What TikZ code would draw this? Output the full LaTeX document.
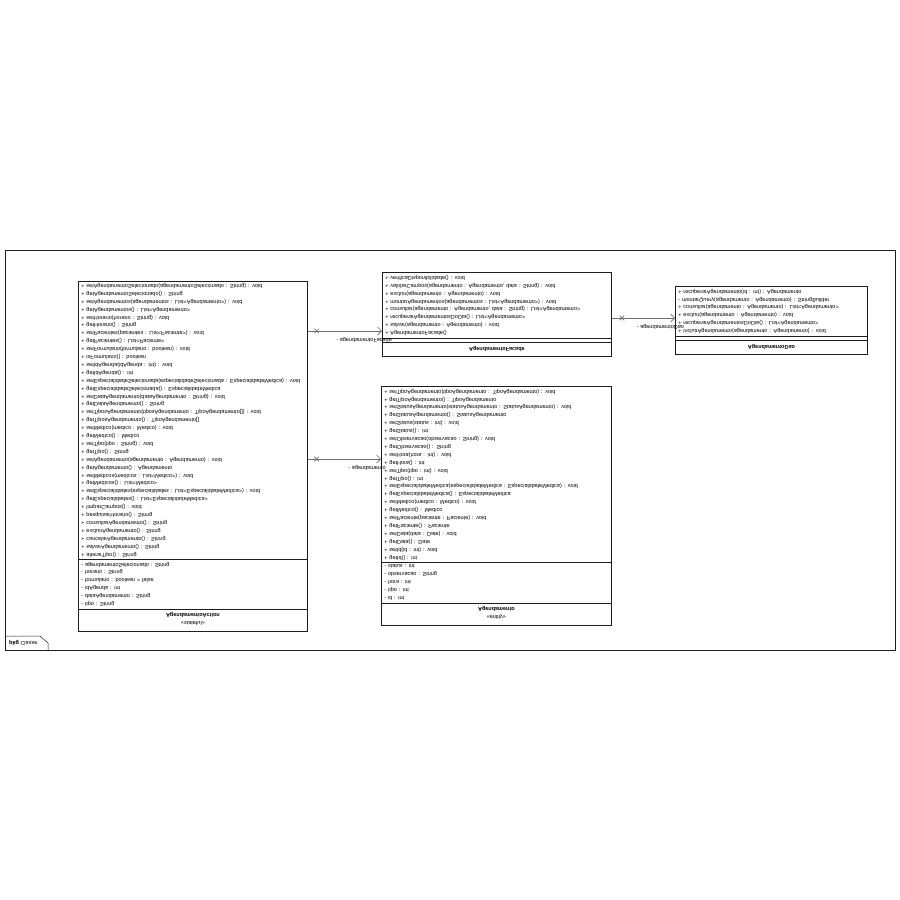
\documentclass[tikz,border=0pt]{standalone}
\usepackage{fontspec}
\setmainfont{Liberation Sans}
\definecolor{umlLine}{RGB}{30,30,30}
\definecolor{umlLink}{RGB}{110,110,110}
\usetikzlibrary{arrows.meta,positioning,shapes.multipart,shapes.misc}
\newcommand{\clsline}[1]{\leavevmode\null\hfill#1\hfill\null}

\begin{document}
\begin{tikzpicture}[
  x=1pt, y=1pt, yscale=-1, transform shape,
  cls/.style={draw=umlLine, line width=0.8pt, fill=white, rectangle split,
              rectangle split parts=3, inner xsep=3pt, inner ysep=2pt,
              align=left, font=\fontsize{5.5}{7.9}\selectfont},
  assoc/.style={draw=umlLink, line width=0.6pt, -{Straight Barb[length=4pt,width=8pt]}},
  xmark/.style={draw=umlLink, cross out, minimum size=4pt, inner sep=0pt},
  lbl/.style={font=\fontsize{5.5}{7}\selectfont, inner sep=1pt, above=5pt}
]
  \useasboundingbox (0,0) rectangle (900,900);

  % frame
  \draw[umlLine, line width=0.5pt] (5,250) rectangle (895,650);
  \draw[umlLine, line width=0.5pt] (5,636) -- (40,636) -- (48,643) -- (48,650);
  \node[anchor=west, font=\fontsize{5.5}{7}\selectfont, inner sep=1pt] (pkg) at (8,643) {\textbf{pkg} Classe};

  % classes
  \node[cls, text width=223pt, anchor=north west] (action) at (78,632) {
    \clsline{\rule{0pt}{8pt}«stateful»}\par\clsline{\textbf{AgendamentoAction}\rule[-2pt]{0pt}{2pt}}
    \nodepart{two}
    - tipo : String\\
    - dataAgendamento : String\\
    - idAgenda : int\\
    - formulario : boolean = false\\
    - horario : String\\
    - agendamentoSelecionado : String
    \nodepart{three}
    + alterarTipo() : String\\
    + salvarAgendamento() : String\\
    + cancelarAgendamento() : String\\
    + excluirAgendamento() : String\\
    + consultarAgendamento() : String\\
    + pesquisarHorario() : String\\
    + limparCampos() : void\\
    + getEspecialidades() : List<EspecialidadeMedica>\\
    + setEspecialidades(especialidades : List<EspecialidadeMedica>) : void\\
    + getMedicos() : List<Medico>\\
    + setMedicos(medicos : List<Medico>) : void\\
    + getAgendamento() : Agendamento\\
    + setAgendamento(agendamento : Agendamento) : void\\
    + getTipo() : String\\
    + setTipo(tipo : String) : void\\
    + getMedico() : Medico\\
    + setMedico(medico : Medico) : void\\
    + getTiposAgendamento() : TipoAgendamento[]\\
    + setTiposAgendamento(tiposAgendamento : TipoAgendamento[]) : void\\
    + getDataAgendamento() : String\\
    + setDataAgendamento(dataAgendamento : String) : void\\
    + getEspecialidadeSelecionada() : EspecialidadeMedica\\
    + setEspecialidadeSelecionada(especialidadeSelecionada : EspecialidadeMedica) : void\\
    + getIdAgenda() : int\\
    + setIdAgenda(idAgenda : int) : void\\
    + isFormulario() : boolean\\
    + setFormulario(formulario : boolean) : void\\
    + getPacientes() : List<Paciente>\\
    + setPacientes(pacientes : List<Paciente>) : void\\
    + getHorario() : String\\
    + setHorario(horario : String) : void\\
    + getAgendamentos() : List<Agendamento>\\
    + setAgendamentos(agendamentos : List<Agendamento>) : void\\
    + getAgendamentoSelecionado() : String\\
    + setAgendamentoSelecionado(agendamentoSelecionado : String) : void
  };

  \node[cls, text width=224pt, anchor=north west] (entity) at (381,626) {
    \clsline{\rule{0pt}{8pt}«entity»}\par\clsline{\textbf{Agendamento}\rule[-2pt]{0pt}{2pt}}
    \nodepart{two}
    - id : int\\
    - tipo : int\\
    - hora : int\\
    - observacao : String\\
    - status : int
    \nodepart{three}
    + getId() : int\\
    + setId(id : int) : void\\
    + getData() : Date\\
    + setData(data : Date) : void\\
    + getPaciente() : Paciente\\
    + setPaciente(paciente : Paciente) : void\\
    + getMedico() : Medico\\
    + setMedico(medico : Medico) : void\\
    + getEspecialidadeMedica() : EspecialidadeMedica\\
    + setEspecialidadeMedica(especialidadeMedica : EspecialidadeMedica) : void\\
    + getTipo() : int\\
    + setTipo(tipo : int) : void\\
    + getHora() : int\\
    + setHora(hora : int) : void\\
    + getObservacao() : String\\
    + setObservacao(observacao : String) : void\\
    + getStatus() : int\\
    + setStatus(status : int) : void\\
    + getStatusAgendamento() : StatusAgendamento\\
    + setStatusAgendamento(statusAgendamento : StatusAgendamento) : void\\
    + getTipoAgendamento() : TipoAgendamento\\
    + setTipoAgendamento(tipoAgendamento : TipoAgendamento) : void
  };

  \node[cls, text width=223pt, anchor=north west] (facade) at (382,357) {
    \clsline{\textbf{AgendamentoFacade}\rule[-2.5pt]{0pt}{9pt}}
    \nodepart{two}
    \nodepart{three}
    + AgendamentoFacade()\\
    + salvar(agendamento : Agendamento) : void\\
    + recuperarAgendamentosDoDia() : List<Agendamento>\\
    + consultar(agendamento : Agendamento, data : String) : List<Agendamento>\\
    + montarAgendamentos(agendamentos : List<Agendamento>) : void\\
    + excluir(agendamento : Agendamento) : void\\
    + validarCampos(agendamento : Agendamento, data : String) : void\\
    + verificaDisponibilidade() : void
  };

  \node[cls, text width=186pt, anchor=north west] (dao) at (675,355) {
    \clsline{\textbf{AgendamentoDao}\rule[-2.5pt]{0pt}{9pt}}
    \nodepart{two}
    \nodepart{three}
    + incluirAgendamento(agendamento : Agendamento) : void\\
    + recuperarAgendamentosDoDia() : List<Agendamento>\\
    + excluir(agendamento : Agendamento) : void\\
    + consultar(agendamento : Agendamento) : List<Agendamento>\\
    - montarQuery(agendamento : Agendamento) : StringBuilder\\
    + recuperarAgendamento(id : int) : Agendamento
  };

  % associations
  \draw[assoc] (action.east |- 0,331) -- node[xmark, pos=0.12] (x1) {}
    node[lbl, pos=0.76] (l1) {- agendamentoFacade} (facade.west |- 0,331);
  \draw[assoc] (action.east |- 0,459) -- node[xmark, pos=0.12] (x2) {}
    node[lbl, pos=0.81] (l2) {- agendamento} (entity.west |- 0,459);
  \draw[assoc] (facade.east |- 0,318) -- node[xmark, pos=0.16] (x3) {}
    node[lbl, pos=0.77] (l3) {- agendamentoDao} (dao.west |- 0,318);
\end{tikzpicture}
\end{document}
